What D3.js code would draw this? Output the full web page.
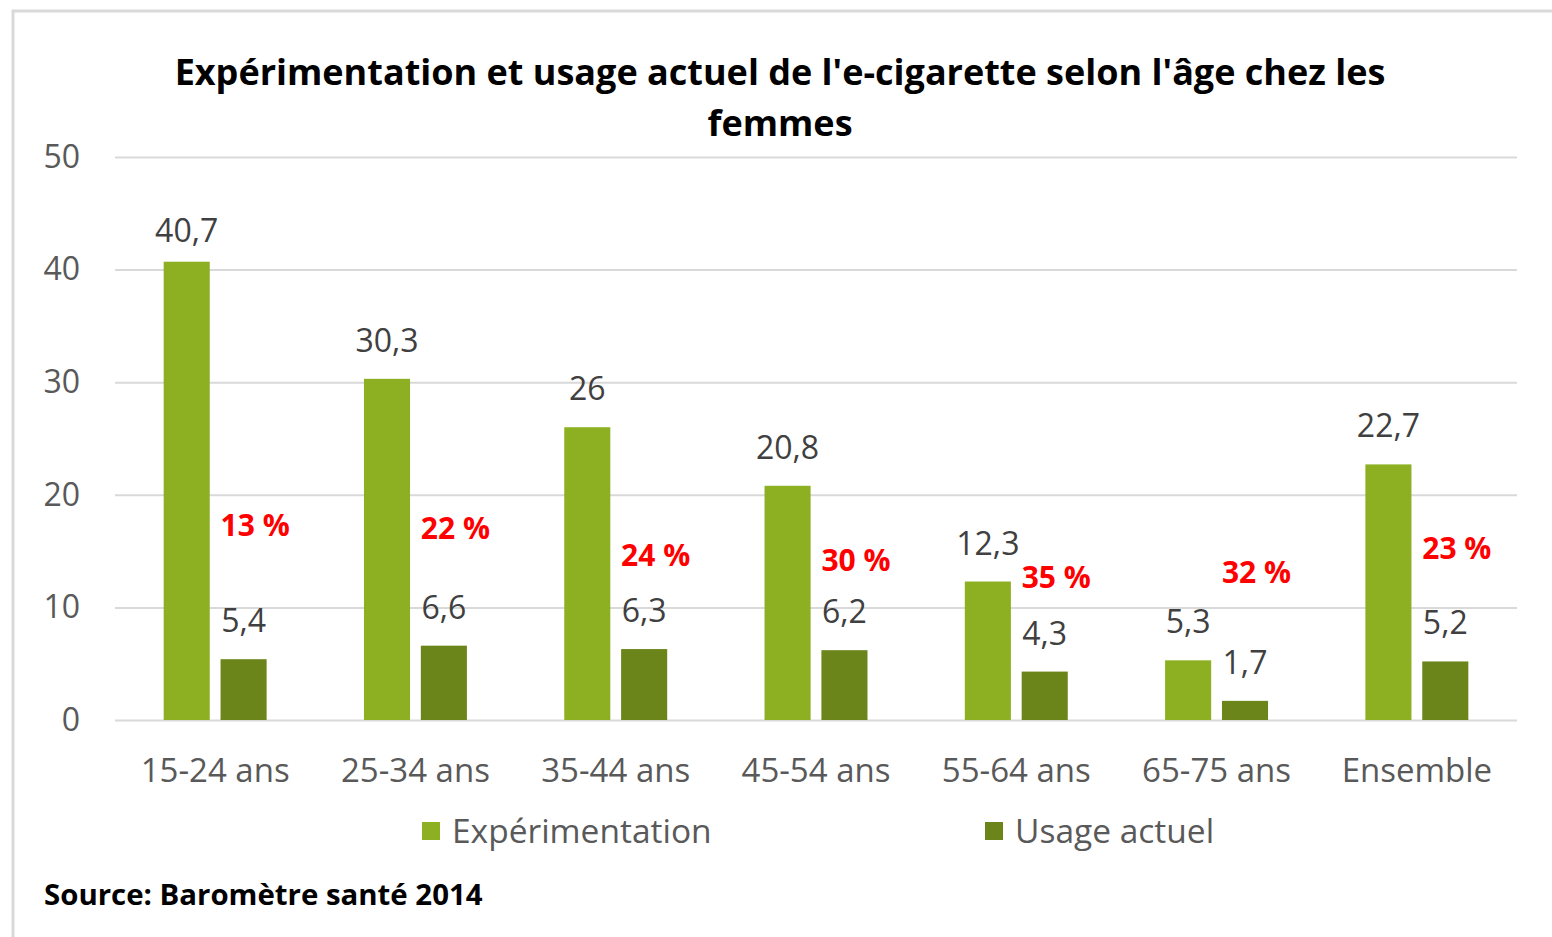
<!DOCTYPE html>
<html>
<head>
<meta charset="utf-8">
<script src="https://cdn.jsdelivr.net/npm/d3@7"></script>
<style>
  body { margin: 0; background: #fff; }
  svg { display: block; }
</style>
</head>
<body>
<svg id="chart" width="1552" height="937"></svg>
<script>
var categories = ["15-24 ans", "25-34 ans", "35-44 ans", "45-54 ans", "55-64 ans", "65-75 ans", "Ensemble"];
var series = ["Expérimentation", "Usage actuel"];
var experimentation = [40.7, 30.3, 26, 20.8, 12.3, 5.3, 22.7];
var usageActuel = [5.4, 6.6, 6.3, 6.2, 4.3, 1.7, 5.2];
var shareLabels = ["13 %", "22 %", "24 %", "30 %", "35 %", "32 %", "23 %"];
var yTicks = [0, 10, 20, 30, 40, 50];

// where the red annotations sit (in axis units)
var shareLabelY = [17.3, 17.05, 14.65, 14.2, 12.7, 13.1, 15.3];

var colors = { "Expérimentation": "#8db022", "Usage actuel": "#6b851b" };
var font = "'Open Sans', sans-serif";

var svg = d3.select("#chart");

// 1. frame
svg.append("rect")
	.attr("x", 13).attr("y", 11)
	.attr("width", 1600).attr("height", 1000)
	.attr("fill", "none")
	.attr("stroke", "#d9d9d9")
	.attr("stroke-width", 3);

// 2. scales
var x = d3.scaleBand()
	.domain(categories)
	.range([115, 1517])
	.paddingInner(0.486)
	.paddingOuter(0.243);

var xs = d3.scaleBand()
	.domain(series)
	.range([0, x.bandwidth()])
	.paddingInner(0.19);

var y = d3.scaleLinear()
	.domain([0, 50])
	.range([720, 157]);

// 3. grid + y labels
var yAxis = svg.append("g")
	.attr("transform", "translate(115,0)")
	.call(d3.axisLeft(y).tickValues(yTicks).tickSize(-1402).tickPadding(35));

yAxis.select(".domain").remove();
yAxis.selectAll(".tick line").attr("stroke", "#d9d9d9").attr("stroke-width", 2);
yAxis.selectAll(".tick text")
	.attr("fill", "#595959")
	.style("font-family", font)
	.style("font-size", "32px");

// 4. category labels
var xAxis = svg.append("g")
	.attr("transform", "translate(0,720)")
	.call(d3.axisBottom(x).tickSize(0).tickPadding(39));

xAxis.select(".domain").remove();
xAxis.selectAll(".tick text")
	.attr("fill", "#595959")
	.style("font-family", font)
	.style("font-size", "33px");

// 5. bars + value labels
var rows = categories.map(function(c, i) {
	return { cat: c, values: [
		{ key: "Expérimentation", v: experimentation[i] },
		{ key: "Usage actuel", v: usageActuel[i] }
	]};
});

var groups = svg.selectAll("g.grp")
	.data(rows)
	.enter()
	.append("g")
	.attr("class", "grp")
	.attr("transform", function(d) { return "translate(" + x(d.cat) + ",0)"; });

groups.selectAll("rect")
	.data(function(d) { return d.values; })
	.enter()
	.append("rect")
	.attr("x", function(d) { return xs(d.key); })
	.attr("y", function(d) { return y(d.v); })
	.attr("width", xs.bandwidth())
	.attr("height", function(d) { return y(0) - y(d.v); })
	.attr("fill", function(d) { return colors[d.key]; });

groups.selectAll("text.val")
	.data(function(d) { return d.values; })
	.enter()
	.append("text")
	.attr("class", "val")
	.attr("x", function(d) { return xs(d.key) + xs.bandwidth() / 2; })
	.attr("y", function(d) { return y(d.v) - (d.v > 35 ? 20 : 27); })
	.attr("text-anchor", "middle")
	.attr("fill", "#404040")
	.style("font-family", font)
	.style("font-size", "32px")
	.text(function(d) { return String(d.v).replace(".", ","); });

// 6. red share annotations
svg.selectAll("text.share")
	.data(shareLabels)
	.enter()
	.append("text")
	.attr("class", "share")
	.attr("x", function(d, i) { return x(categories[i]) + xs("Usage actuel"); })
	.attr("y", function(d, i) { return y(shareLabelY[i]) + 11; })
	.attr("fill", "#ff0000")
	.style("font-family", font)
	.style("font-weight", "bold")
	.style("font-size", "30px")
	.text(function(d) { return d; });

// 7. title
var title = svg.append("text")
	.attr("text-anchor", "middle")
	.attr("fill", "#000")
	.style("font-family", font)
	.style("font-weight", "bold")
	.style("font-size", "36px");
title.append("tspan").attr("x", 780).attr("y", 85)
	.text("Expérimentation et usage actuel de l'e-cigarette selon l'âge chez les");
title.append("tspan").attr("x", 780).attr("y", 136).text("femmes");

// 8. legend
var legendX = [422, 985];
var legend = svg.selectAll("g.leg")
	.data(series)
	.enter()
	.append("g")
	.attr("class", "leg")
	.attr("transform", function(d, i) { return "translate(" + legendX[i] + ",822)"; });

legend.append("rect")
	.attr("width", 18).attr("height", 18)
	.attr("fill", function(d) { return colors[d]; });

legend.append("text")
	.attr("x", 30).attr("y", 21)
	.attr("fill", "#595959")
	.style("font-family", font)
	.style("font-size", "33.5px")
	.text(function(d) { return d; });

// 9. source
svg.append("text")
	.attr("x", 44).attr("y", 905)
	.attr("fill", "#000")
	.style("font-family", font)
	.style("font-weight", "bold")
	.style("font-size", "29.4px")
	.text("Source: Baromètre santé 2014");
</script>
</body>
</html>
